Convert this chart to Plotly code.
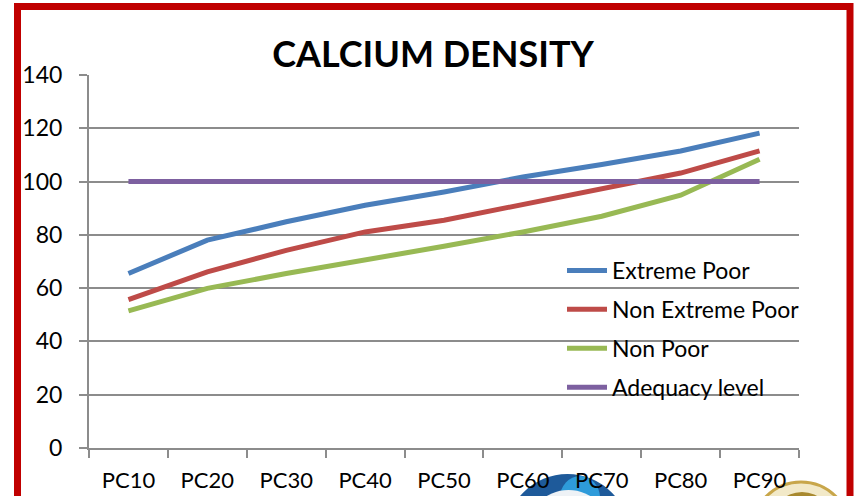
import plotly.graph_objects as go

categories = ["PC10", "PC20", "PC30", "PC40", "PC50", "PC60", "PC70", "PC80", "PC90"]
extreme_poor = [65.5, 78.0, 84.9, 91.1, 96.1, 101.7, 106.4, 111.5, 118.2]
non_extreme_poor = [55.7, 66.1, 74.2, 81.1, 85.5, 91.4, 97.1, 103.2, 111.5]
non_poor = [51.5, 59.9, 65.5, 70.5, 75.7, 81.1, 87.0, 94.9, 108.4]
adequacy_level = [100, 100, 100, 100, 100, 100, 100, 100, 100]
y_ticks = [0, 20, 40, 60, 80, 100, 120, 140]

series = [
    ("Extreme Poor", extreme_poor, "#4A7EBB"),
    ("Non Extreme Poor", non_extreme_poor, "#BE4B48"),
    ("Non Poor", non_poor, "#98B954"),
    ("Adequacy level", adequacy_level, "#7D60A0"),
]

FONT = "Lato"
fig = go.Figure()
for i, (name, vals, col) in enumerate(series):
    fig.add_trace(go.Scatter(
        x=categories, y=vals, name=name, mode="lines",
        line=dict(color=col, width=5), legendgroup=f"g{i}",
    ))

grid = "#8C8C8C"
fig.update_layout(
    width=858, height=496,
    margin=dict(l=89, r=59, t=75, b=48, autoexpand=False),
    paper_bgcolor="white", plot_bgcolor="white",
    font=dict(family=FONT, color="black"),
    title=dict(text="<b>CALCIUM DENSITY</b>", x=433 / 858, xref="container",
               y=1 - 54 / 496, yref="container", xanchor="center", yanchor="middle",
               font=dict(family=FONT, size=36, color="black")),
    xaxis=dict(type="category", range=[-0.5, 8.5], tickson="boundaries", automargin=False,
               showgrid=False, showline=True, linecolor=grid, linewidth=2,
               ticks="outside", ticklen=8, tickwidth=2, tickcolor=grid,
               tickfont=dict(size=22, family=FONT), ticklabelstandoff=12),
    yaxis=dict(range=[0, 140], tickvals=y_ticks, showgrid=True, gridcolor=grid, gridwidth=2,
               automargin=False,
               showline=True, linecolor=grid, linewidth=2, zeroline=False,
               ticks="outside", ticklen=8, tickwidth=2, tickcolor=grid,
               tickfont=dict(size=23, family=FONT), ticklabelstandoff=12),
    legend=dict(x=(562 - 89) / 710, y=(448 - 249) / 373, xanchor="left", yanchor="top",
                bgcolor="rgba(0,0,0,0)", font=dict(size=23, family=FONT),
                traceorder="grouped", tracegroupgap=6, itemwidth=40),
    showlegend=True,
)

def px_x(p):
    return (p - 89) / 710

def px_y(p):
    return (448 - p) / 373

# decorative emblems partially visible at the bottom
fig.add_shape(type="circle", xref="paper", yref="paper", layer="below",
              x0=px_x(505), x1=px_x(630), y0=px_y(600), y1=px_y(474),
              fillcolor="#1E5A9A", line=dict(width=0))
fig.add_shape(type="circle", xref="paper", yref="paper", layer="below",
              x0=px_x(560), x1=px_x(600), y0=px_y(520), y1=px_y(476),
              fillcolor="#2E9BDA", line=dict(width=0))
fig.add_shape(type="circle", xref="paper", yref="paper", layer="below",
              x0=px_x(525), x1=px_x(612), y0=px_y(580), y1=px_y(490),
              fillcolor="#EEF2F6", line=dict(width=0))
fig.add_shape(type="circle", xref="paper", yref="paper", layer="below",
              x0=px_x(752), x1=px_x(850), y0=px_y(580), y1=px_y(482),
              fillcolor="#F2E9C8", line=dict(color="#C8A64A", width=3))
fig.add_shape(type="circle", xref="paper", yref="paper", layer="below",
              x0=px_x(770), x1=px_x(834), y0=px_y(560), y1=px_y(492),
              fillcolor="#A8892F", line=dict(width=0))

# red frame
fig.add_shape(type="rect", xref="paper", yref="paper",
              x0=px_x(17.5), x1=px_x(850), y0=px_y(530), y1=px_y(6.5),
              line=dict(color="#C00000", width=7), fillcolor="rgba(0,0,0,0)")

fig.write_html("out.html", config={"displayModeBar": False},
               post_script="document.body.style.margin='0';document.body.style.overflow='hidden';")
